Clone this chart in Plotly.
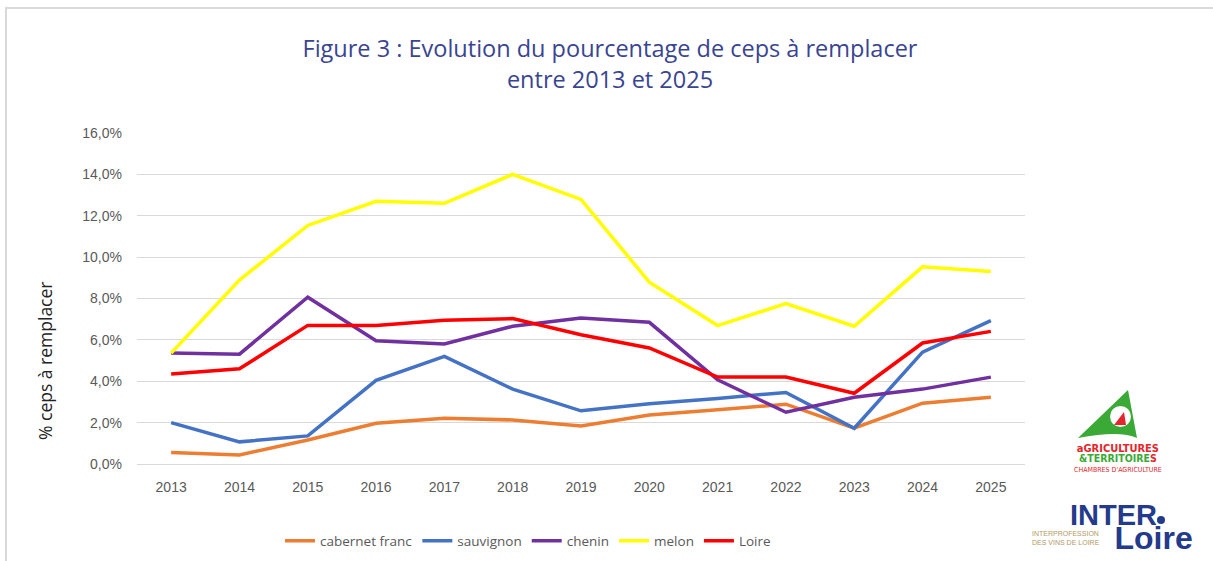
import plotly.graph_objects as go

# data
years = ['2013', '2014', '2015', '2016', '2017', '2018', '2019',
         '2020', '2021', '2022', '2023', '2024', '2025']
cabernet_franc = [0.55, 0.44, 1.16, 1.97, 2.21, 2.13, 1.84, 2.37, 2.62, 2.89, 1.73, 2.94, 3.23]
sauvignon = [2.00, 1.07, 1.36, 4.04, 5.20, 3.62, 2.57, 2.91, 3.17, 3.46, 1.73, 5.41, 6.93]
chenin = [5.36, 5.31, 8.06, 5.96, 5.80, 6.66, 7.06, 6.85, 4.07, 2.50, 3.23, 3.62, 4.20]
melon = [5.36, 8.89, 11.53, 12.70, 12.60, 14.00, 12.79, 8.79, 6.69, 7.75, 6.66, 9.53, 9.31]
loire = [4.35, 4.60, 6.70, 6.70, 6.95, 7.03, 6.25, 5.61, 4.20, 4.20, 3.42, 5.85, 6.41]
y_ticks = [0, 2, 4, 6, 8, 10, 12, 14, 16]
y_ticktext = ['0,0%', '2,0%', '4,0%', '6,0%', '8,0%', '10,0%', '12,0%', '14,0%', '16,0%']

series = [
    ('cabernet franc', cabernet_franc, '#ED7D31'),
    ('sauvignon', sauvignon, '#4472C4'),
    ('chenin', chenin, '#7030A0'),
    ('melon', melon, '#FFFF00'),
    ('Loire', loire, '#FF0000'),
]

W, H = 1213, 561
L, R, T, B = 137, 1025, 133, 464
FONT = 'Open Sans, Lato, sans-serif'
TICKFONT = 'Liberation Sans, Arial'
NARROW = 'Liberation Sans Narrow, DejaVu Sans Condensed, Arial'
RED, GREEN, NAVY = '#E3262B', '#3AA935', '#243A8A'


# pixel -> paper coordinates for the decorations
def px(x):
    return (x - L) / (R - L)


def py(y):
    return (B - y) / (B - T)


def note(text, x, y, size, color, family, xanchor='center', **kw):
    return dict(text=text, x=px(x), y=py(y), xref='paper', yref='paper', showarrow=False,
                xanchor=xanchor, yanchor='middle',
                font=dict(size=size, color=color, family=family), **kw)


agri_text = (f"<b><span style='font-size:11px'><span style='fill:{RED}'>a</span>"
             f"<span style='fill:{RED}'>GRICULTURES</span></span></b><br>"
             f"<b><span style='font-size:10.5px'><span style='fill:{GREEN}'>&amp;TERRITOIRE</span>"
             f"<span style='fill:{RED}'>S</span></span></b><br>"
             f"<span style='font-size:7px'>CHAMBRES D'AGRICULTURE</span>")
inter_text = ("<b><span style='font-size:29px'>INTER</span></b><br>"
              "<b><span style='font-size:32px'>&nbsp;&nbsp;&nbsp;&nbsp;&nbsp;Loire</span></b>")

data = [go.Scatter(x=years, y=vals, mode='lines', name=name,
                   line=dict(color=col, width=3.5))
        for name, vals, col in series]

layout = go.Layout(
    width=W, height=H,
    margin=dict(l=L, r=W - R, t=T, b=H - B, autoexpand=False),
    paper_bgcolor='white', plot_bgcolor='white',
    font=dict(family=FONT, color='#595959'),
    title=dict(text='Figure 3 : Evolution du pourcentage de ceps à remplacer<br>entre 2013 et 2025',
               x=610 / W, xanchor='center', xref='container',
               y=1 - 57 / H, yanchor='middle', yref='container',
               font=dict(size=23.5, color='#3A4591', family=FONT)),
    xaxis=dict(type='category', range=[-0.5, 12.5], showgrid=False,
               showline=True, linecolor='#d9d9d9', linewidth=1,
               ticks='', tickfont=dict(size=14, color='#595959', family=TICKFONT),
               ticklabelstandoff=10),
    yaxis=dict(range=[0, 16], tickvals=y_ticks, ticktext=y_ticktext,
               showgrid=True, gridcolor='#d9d9d9', gridwidth=1, zeroline=False,
               ticks='', tickfont=dict(size=14, color='#595959', family=TICKFONT),
               ticklabelstandoff=14),
    showlegend=True,
    legend=dict(orientation='h', x=px(280), xanchor='left', y=py(541), yanchor='middle',
                font=dict(size=13.5, color='#595959', family=FONT),
                itemwidth=30, traceorder='normal'),
    annotations=[
        note('% ceps à remplacer', 45, 361, 17.5, '#222222', FONT, textangle=-90),
        # Agricultures & Territoires logo text
        note(agri_text, 1118, 458, 7.6, RED, NARROW),
        # InterLoire logo text
        note(inter_text, 1068, 527, 18.5, NAVY, TICKFONT, xanchor='left', align='left'),
        note('INTERPROFESSION<br>DES VINS DE LOIRE', 1066, 538, 7, '#B09A64', TICKFONT, align='left'),
    ],
    shapes=[
        # outer border (top and left edges visible)
        dict(type='line', xref='paper', yref='paper', x0=px(5), x1=px(1213), y0=py(8), y1=py(8),
             line=dict(color='#d9d9d9', width=2)),
        dict(type='line', xref='paper', yref='paper', x0=px(6), x1=px(6), y0=py(8), y1=py(561),
             line=dict(color='#d9d9d9', width=2)),
        # green leaf of the logo
        dict(type='path', xref='paper', yref='paper',
             path=f'M {px(1078)},{py(438)} L {px(1128)},{py(390)} L {px(1137)},{py(438)} '
                  f'Q {px(1120)},{py(430)} {px(1078)},{py(438)} Z',
             fillcolor=GREEN, line=dict(width=0)),
        dict(type='circle', xref='paper', yref='paper',
             x0=px(1110), x1=px(1131), y0=py(427), y1=py(406),
             fillcolor='white', line=dict(width=0)),
        dict(type='path', xref='paper', yref='paper',
             path=f'M {px(1114)},{py(425)} L {px(1124)},{py(412)} L {px(1126)},{py(425)} Z',
             fillcolor=RED, line=dict(width=0)),
        # dot of InterLoire
        dict(type='circle', xref='paper', yref='paper',
             x0=px(1157), x1=px(1165), y0=py(524), y1=py(516),
             fillcolor=NAVY, line=dict(width=0)),
    ],
)

fig = go.Figure(data=data, layout=layout)
# drop the browser's default page margin so the figure sits at the top-left corner
fig.write_html('out.html', config={'displayModeBar': False},
               post_script="document.body.style.margin='0';")
